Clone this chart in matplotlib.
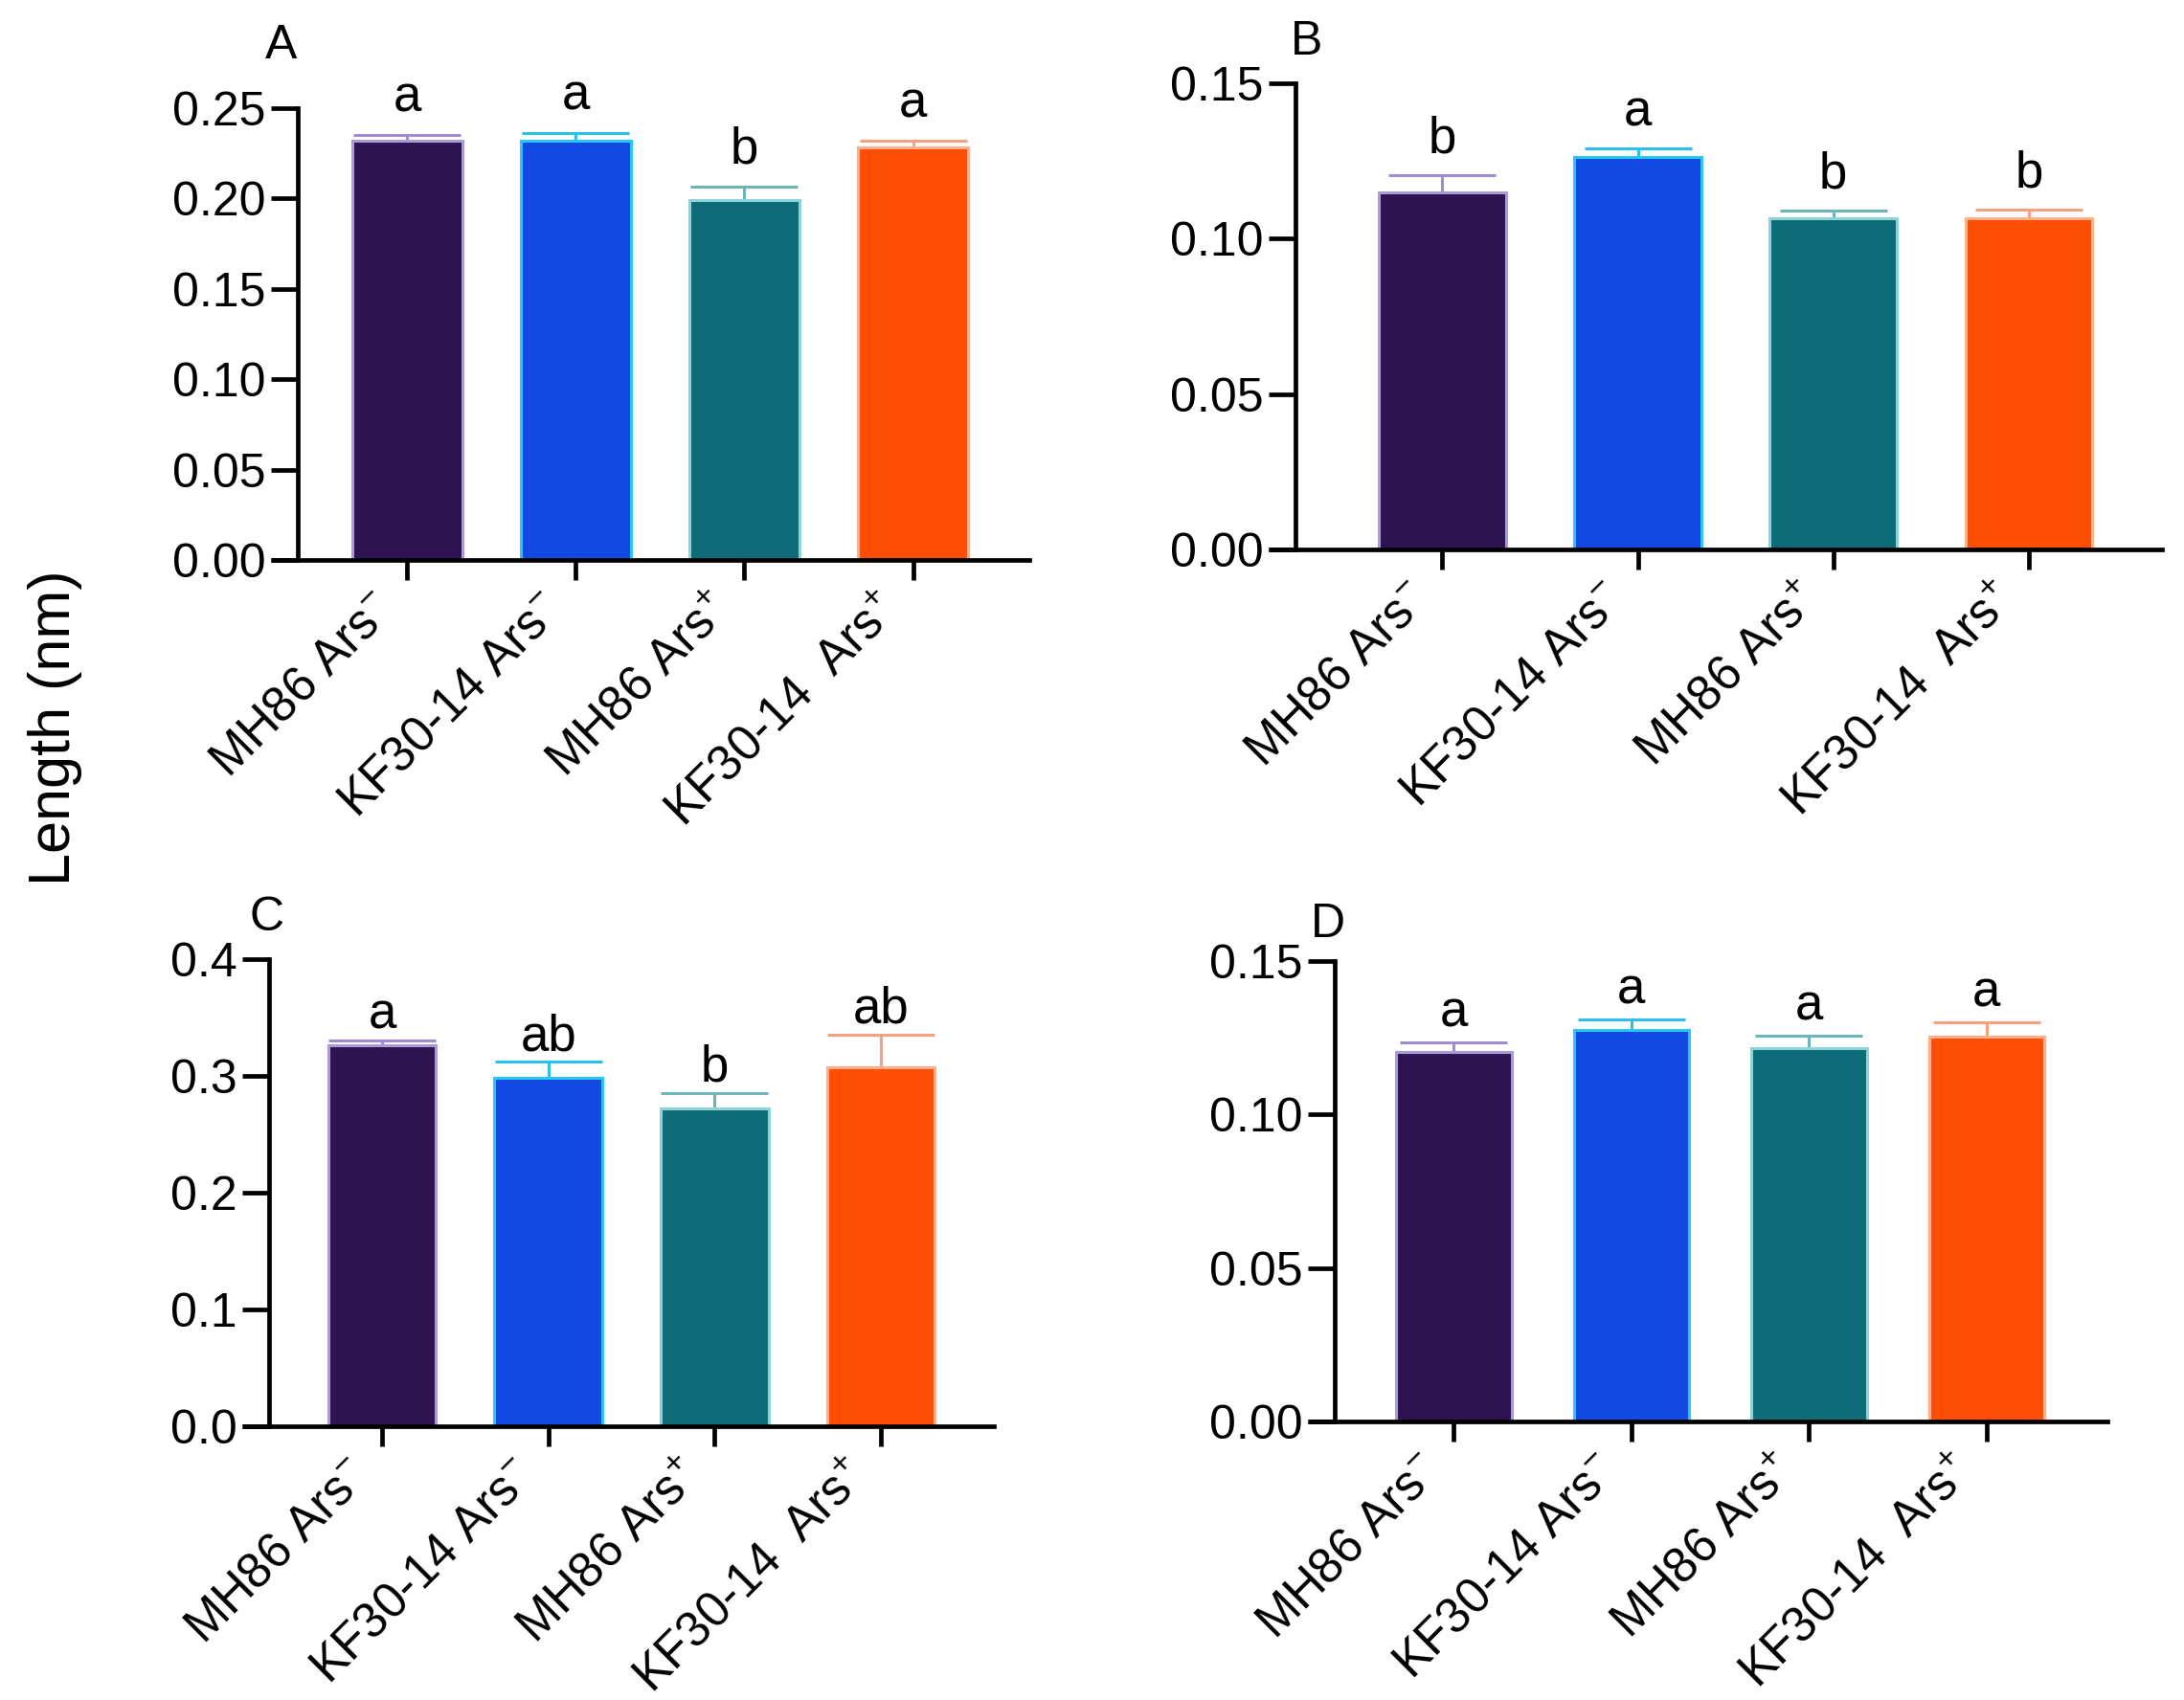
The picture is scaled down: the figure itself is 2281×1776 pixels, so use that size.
import numpy as np
import matplotlib
matplotlib.use('Agg')
import matplotlib.pyplot as plt
from matplotlib.transforms import ScaledTranslation

# --- style ---
plt.rcParams['font.family'] = ['Liberation Sans', 'DejaVu Sans']
plt.rcParams['mathtext.fontset'] = 'custom'
plt.rcParams['mathtext.rm'] = 'Liberation Sans'
plt.rcParams['mathtext.it'] = 'Liberation Sans'

# --- data ---
groups = [r'MH86 Ars$^{-}$', r'KF30-14 Ars$^{-}$', r'MH86 Ars$^{+}$', r'KF30-14  Ars$^{+}$']

mean_A = [0.232, 0.232, 0.199, 0.2285]
sem_A = [0.003, 0.004, 0.0074, 0.0035]
let_A = ['a', 'a', 'b', 'a']

mean_B = [0.115, 0.1262, 0.1067, 0.1067]
sem_B = [0.0053, 0.0029, 0.0024, 0.0026]
let_B = ['b', 'a', 'b', 'b']

mean_C = [0.3265, 0.2987, 0.2723, 0.3077]
sem_C = [0.0042, 0.0132, 0.0127, 0.0273]
let_C = ['a', 'ab', 'b', 'ab']

mean_D = [0.1203, 0.1276, 0.1217, 0.1253]
sem_D = [0.0032, 0.0033, 0.0040, 0.0046]
let_D = ['a', 'a', 'a', 'a']

fills = ['#2D1450', '#1249E3', '#0D6C78', '#FF4E05']
edges = ['#A99AD8', '#2BC6F8', '#8CD4D8', '#FFB08A']
errc = ['#A08CD0', '#2BBFF0', '#6FB5B8', '#F5A080']

W, H = 2281, 1776
fig = plt.figure(figsize=(W / 100, H / 100), dpi=100)


def box(l, r, t, b):
    return [l / W, 1 - b / H, (r - l) / W, (b - t) / H]


panels = [
    ('A', box(311, 1075, 113, 585), mean_A, sem_A, let_A, 0.25, 0.05, '%.2f', (-0.65, 3.69), 10, (294, 48)),
    ('B', box(1353, 2258, 87, 574), mean_B, sem_B, let_B, 0.15, 0.05, '%.2f', (-0.75, 3.68), 9, (1365, 44)),
    ('C', box(281, 1038, 1002, 1490), mean_C, sem_C, let_C, 0.4, 0.1, '%.1f', (-0.68, 3.68), 1, (279, 959)),
    ('D', box(1394, 2201, 1004, 1485), mean_D, sem_D, let_D, 0.15, 0.05, '%.2f', (-0.67, 3.68), 4, (1387, 966)),
]

x = np.arange(len(groups))
lw_axis = 3.4
tick_len = 20

for name, pos, m, e, lets, ymax, step, fmt, xl, off, lpos in panels:
    ax = fig.add_axes(pos)
    ax.bar(x, m, width=0.65, color=fills, edgecolor=edges, linewidth=2.2, zorder=2)
    for i in range(len(x)):
        ax.errorbar(x[i], m[i], yerr=e[i], color=errc[i], capsize=40,
                    elinewidth=2.2, capthick=2.2, zorder=1)
        ax.annotate(lets[i], (x[i], m[i] + e[i]), xytext=(0, off),
                    textcoords='offset points', ha='center', va='bottom',
                    fontsize=38)
    ax.set_xlim(*xl)
    ax.set_ylim(0, ymax)
    yt = np.arange(0, ymax + step / 2, step)
    ax.set_yticks(yt)
    ax.set_yticklabels([fmt % v for v in yt], fontsize=36)
    ax.set_xticks(x)
    ax.set_xticklabels(groups, fontsize=36.5, rotation=45, ha='right',
                       va='center', rotation_mode='anchor')
    for s in ['top', 'right']:
        ax.spines[s].set_visible(False)
    for s in ['left', 'bottom']:
        ax.spines[s].set_linewidth(lw_axis)
    ax.tick_params(axis='y', length=tick_len, width=lw_axis, pad=4)
    ax.tick_params(axis='x', length=15, width=lw_axis, pad=17)
    shift = ScaledTranslation(-22 / 100, 0, fig.dpi_scale_trans)
    for lab in ax.get_xticklabels():
        lab.set_transform(lab.get_transform() + shift)
    # x axis line runs out under the y ticks
    frac = (tick_len / 72 * 100) / (pos[2] * W)
    ax.plot([-frac, 0], [0, 0], transform=ax.transAxes, color='black',
            lw=lw_axis, clip_on=False, solid_capstyle='butt')
    fig.text(lpos[0] / W, 1 - lpos[1] / H, name, fontsize=36, ha='center', va='center')

fig.text(58 / W, 1 - 760 / H, 'Length (nm)', rotation=90, fontsize=44,
         ha='center', va='center')

fig.savefig('out.png', dpi=100)
